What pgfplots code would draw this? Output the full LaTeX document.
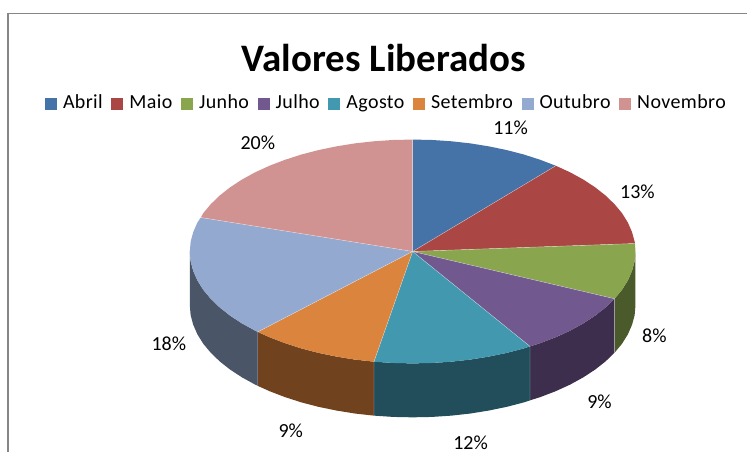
\documentclass[border=0pt]{standalone}
\usepackage{fontspec}
\setmainfont{Carlito}
\usepackage{pgfplots}
\pgfplotsset{compat=1.18}
\definecolor{abril}{HTML}{4572A7}
\definecolor{maio}{HTML}{AA4643}
\definecolor{junho}{HTML}{89A54E}
\definecolor{julho}{HTML}{71588F}
\definecolor{agosto}{HTML}{4198AF}
\definecolor{setembro}{HTML}{DB843D}
\definecolor{outubro}{HTML}{93A9CF}
\definecolor{novembro}{HTML}{D19392}
\definecolor{junhoD}{HTML}{4A5A2A}
\definecolor{julhoD}{HTML}{3C2E4C}
\definecolor{agostoD}{HTML}{224E5C}
\definecolor{setembroD}{HTML}{70421E}
\definecolor{outubroD}{HTML}{4B5568}
\definecolor{moldura}{HTML}{868686}
\begin{document}
\begin{tikzpicture}
\begin{axis}[
    scale only axis,
    width=561pt, height=339pt,
    xmin=0, xmax=748, ymin=-0.7, ymax=451.3,
    y dir=reverse,
    hide axis,
    clip=false,
    unbounded coords=jump,
    title={Valores Liberados},
    title style={at={(0.5135,0.854)}, anchor=center, font=\bfseries\fontsize{29.2}{32}\selectfont},
    legend columns=8,
    legend style={at={(0.5175,0.769)}, anchor=center, draw=none, fill=none,
        font=\fontsize{15}{18}\selectfont\addfontfeatures{LetterSpace=2},
        inner sep=0pt,
        nodes={text height=10pt, text depth=3pt},
        /tikz/every odd column/.append style={column sep=2.5pt},
        /tikz/every even column/.append style={column sep=4.5pt}},
    legend cell align=left,
    legend image code/.code={\fill[#1] (0pt,-4.5pt) rectangle (9pt,4.5pt);},
    every axis plot/.append style={draw=none},
]
\path (axis cs:0,-0.7) rectangle (axis cs:748,451.3);
% moldura do grafico
\addplot[forget plot, draw=moldura, line width=1pt] coordinates {(8,451.3) (8,12.5) (748,12.5)};

% laterais
\addplot[forget plot, fill=junhoD] coordinates {(636,251) (635.2,260.8) (632.6,270.4) (628.4,280) (622.6,289.3) (615.1,298.3)
    (615.1,352.3) (622.6,343.3) (628.4,334) (632.6,324.4) (635.2,314.8) (636,305)};
\addplot[forget plot, fill=julhoD] coordinates {(615.1,298.3) (606.1,307) (595.7,315.2) (583.8,323) (570.7,330.2) (556.3,336.8) (540.9,342.7) (530.5,346)
    (530.5,400) (540.9,396.7) (556.3,390.8) (570.7,384.2) (583.8,377) (595.7,369.2) (606.1,361) (615.1,352.3)};
\addplot[forget plot, fill=agostoD] coordinates {(530.5,346) (524.5,348) (507.2,352.5) (489.3,356.2) (470.7,359.2) (451.7,361.3) (432.4,362.6) (413,363) (393.6,362.6) (374.3,361.3)
    (374.3,415.3) (393.6,416.6) (413,417) (432.4,416.6) (451.7,415.3) (470.7,413.2) (489.3,410.2) (507.2,406.5) (524.5,402) (530.5,400)};
\addplot[forget plot, fill=setembroD] coordinates {(374.3,361.3) (355.3,359.2) (336.7,356.2) (318.8,352.5) (301.5,348) (285.1,342.7) (269.7,336.8) (258,331.5)
    (258,385.5) (269.7,390.8) (285.1,396.7) (301.5,402) (318.8,406.5) (336.7,410.2) (355.3,413.2) (374.3,415.3)};
\addplot[forget plot, fill=outubroD] coordinates {(258,331.5) (255.3,330.2) (242.2,323) (230.3,315.2) (219.9,307) (210.9,298.3) (203.4,289.3) (197.6,280) (193.4,270.4) (190.8,260.8) (190,251)
    (190,305) (190.8,314.8) (193.4,324.4) (197.6,334) (203.4,343.3) (210.9,352.3) (219.9,361) (230.3,369.2) (242.2,377) (255.3,384.2) (258,385.5)};

% fatias (topo)
\addplot[fill=abril] coordinates {(413,251) (413,139) (432.4,139.4) (451.7,140.7) (470.7,142.8) (489.3,145.8) (507.2,149.5) (524.5,154) (540.9,159.3) (556.3,165.2)};
\addplot[fill=maio] coordinates {(413,251) (556.3,165.2) (570.7,171.8) (583.8,179) (595.7,186.8) (606.1,195) (615.1,203.7) (622.6,212.7) (628.4,222) (632.6,231.6) (635.2,241.2) (635.6,243)};
\addplot[fill=junho] coordinates {(413,251) (635.6,243) (636,251) (635.2,260.8) (632.6,270.4) (628.4,280) (622.6,289.3) (615.1,298.3)};
\addplot[fill=julho] coordinates {(413,251) (615.1,298.3) (606.1,307) (595.7,315.2) (583.8,323) (570.7,330.2) (556.3,336.8) (540.9,342.7) (530.5,346)};
\addplot[fill=agosto] coordinates {(413,251) (530.5,346) (524.5,348) (507.2,352.5) (489.3,356.2) (470.7,359.2) (451.7,361.3) (432.4,362.6) (413,363) (393.6,362.6) (374.3,361.3)};
\addplot[fill=setembro] coordinates {(413,251) (374.3,361.3) (355.3,359.2) (336.7,356.2) (318.8,352.5) (301.5,348) (285.1,342.7) (269.7,336.8) (258,331.5)};
\addplot[fill=outubro] coordinates {(413,251) (258,331.5) (255.3,330.2) (242.2,323) (230.3,315.2) (219.9,307) (210.9,298.3) (203.4,289.3) (197.6,280) (193.4,270.4) (190.8,260.8) (190,251) (190.8,241.2) (193.4,231.6) (197.6,222) (201,217)};
\addplot[fill=novembro] coordinates {(413,251) (201,217) (203.4,212.7) (210.9,203.7) (219.9,195) (230.3,186.8) (242.2,179) (255.3,171.8) (269.7,165.2) (285.1,159.3) (301.5,154) (318.8,149.5) (336.7,145.8) (355.3,142.8) (374.3,140.7) (393.6,139.4) (413,139)};
\legend{Abril, Maio, Junho, Julho, Agosto, Setembro, Outubro, Novembro}

% divisorias claras
\addplot[forget plot, draw=white, draw opacity=0.55, line width=0.3pt] coordinates {
    (413,139) (413,251) (556.3,165.2) (nan,nan)
    (635.6,243) (413,251) (615.1,298.3) (nan,nan)
    (530.5,346) (413,251) (374.3,361.3) (nan,nan)
    (258,331.5) (413,251) (201,217) (nan,nan)
    (615.1,298.3) (615.1,352.3) (nan,nan)
    (530.5,346) (530.5,400) (nan,nan)
    (374.3,361.3) (374.3,415.3) (nan,nan)
    (258,331.5) (258,385.5)};

% rotulos de dados
\addplot[forget plot, draw=none, mark=none, nodes near coords, point meta=explicit symbolic,
    every node near coord/.style={anchor=center, font=\fontsize{15}{18}\selectfont, inner sep=0pt}]
    coordinates {(511,127)[11\%] (638,191)[13\%] (655,335)[8\%] (600,401)[9\%]
                 (471,442)[12\%] (291,430)[9\%] (169,343)[18\%] (258,142)[20\%]};
\end{axis}
\end{tikzpicture}
\end{document}
